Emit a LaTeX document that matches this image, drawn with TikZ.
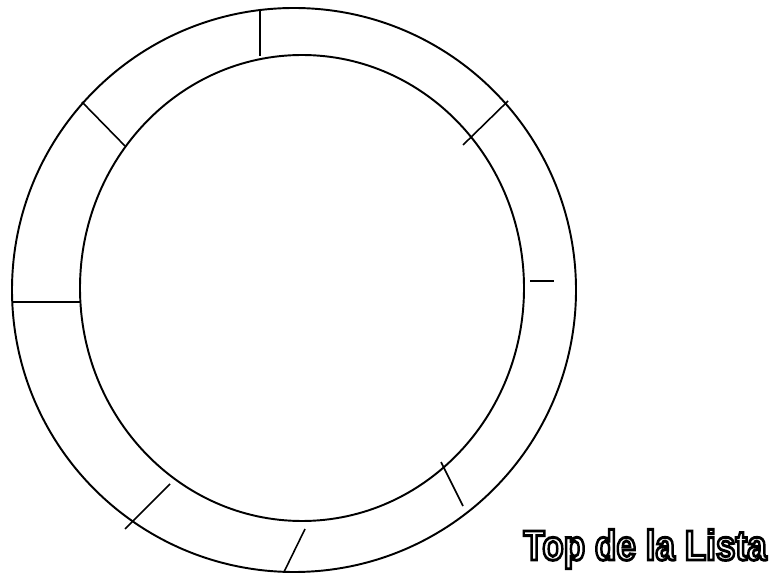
\documentclass[tikz,border=0pt]{standalone}
\usepackage{fontspec}
\newfontfamily\listafont{Liberation Sans}
\newcommand{\hueco}[1]{\special{pdf:literal direct 1 Tr 1.4 w}#1\special{pdf:literal direct 0 Tr}}
\begin{document}
\begin{tikzpicture}[x=0.02cm,y=-0.02cm]
        \useasboundingbox (0,0) rectangle (773,573);
        \draw[line width=1.1pt] (294,290) circle (282);\draw[line width=1.1pt] (302,288) ellipse (222 and 233);
        \draw[line width=0.9pt] (260,9) -- (260,56);\draw[line width=0.9pt] (82,102) -- (125,146);
        \draw[line width=0.9pt] (12,302) -- (80,302);\draw[line width=0.9pt] (125,529) -- (170,484);
        \draw[line width=0.9pt] (283,574) -- (305,529);\draw[line width=0.9pt] (441,462) -- (463,506);
        \draw[line width=0.9pt] (530,281) -- (554,281);\draw[line width=0.9pt] (463,145) -- (508,101);
        \node[anchor=base west, inner sep=0pt, yscale=1.2] (titulo) at (523,560) {\listafont\bfseries\fontsize{20pt}{24pt}\selectfont\hueco{Top de la Lista}};
    \end{tikzpicture}
\end{document}
